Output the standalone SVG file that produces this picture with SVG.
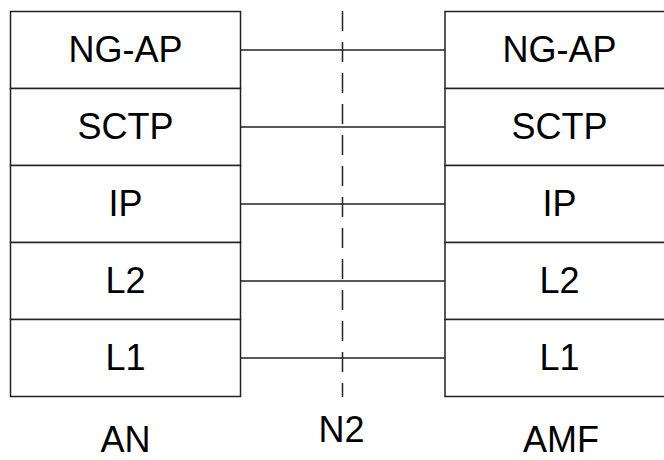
<svg xmlns="http://www.w3.org/2000/svg" width="664" height="460" viewBox="0 0 664 460">
<style>
.box{fill:#fff;stroke:#222;stroke-width:1.5}
.ln{stroke:#222;stroke-width:1.5;fill:none}
.dash{stroke:#222;stroke-width:1.5;stroke-dasharray:20 11;fill:none}
text{font-family:"Liberation Sans",Arial,sans-serif;font-size:36px;fill:#000;text-anchor:middle}
</style>
<rect width="664" height="460" fill="#fff"/>
<g id="connectors">
<line class="ln" x1="240.5" y1="50" x2="445" y2="50"/>
<line class="ln" x1="240.5" y1="127" x2="445" y2="127"/>
<line class="ln" x1="240.5" y1="204" x2="445" y2="204"/>
<line class="ln" x1="240.5" y1="281" x2="445" y2="281"/>
<line class="ln" x1="240.5" y1="358" x2="445" y2="358"/>
<line class="dash" x1="342.5" y1="11" x2="342.5" y2="397"/>
</g>
<g id="an-stack">
<g id="an-ngap"><rect class="box" x="10.5" y="11.5" width="230" height="77"/><text x="125.5" y="61.5">NG-AP</text></g>
<g id="an-sctp"><rect class="box" x="10.5" y="88.5" width="230" height="77"/><text x="125.5" y="138.7">SCTP</text></g>
<g id="an-ip"><rect class="box" x="10.5" y="165.5" width="230" height="77"/><text x="125.5" y="215.7">IP</text></g>
<g id="an-l2"><rect class="box" x="10.5" y="242.5" width="230" height="77"/><text x="125.5" y="292.7">L2</text></g>
<g id="an-l1"><rect class="box" x="10.5" y="319.5" width="230" height="77"/><text x="125.5" y="369.5">L1</text></g>
</g>
<g id="amf-stack">
<g id="amf-ngap"><rect class="box" x="445" y="11.5" width="229" height="77"/><text x="559.5" y="61.5">NG-AP</text></g>
<g id="amf-sctp"><rect class="box" x="445" y="88.5" width="229" height="77"/><text x="559.5" y="138.7">SCTP</text></g>
<g id="amf-ip"><rect class="box" x="445" y="165.5" width="229" height="77"/><text x="559.5" y="215.7">IP</text></g>
<g id="amf-l2"><rect class="box" x="445" y="242.5" width="229" height="77"/><text x="559.5" y="292.7">L2</text></g>
<g id="amf-l1"><rect class="box" x="445" y="319.5" width="229" height="77"/><text x="559.5" y="369.5">L1</text></g>
</g>
<g id="label-an"><text x="125.5" y="452">AN</text></g>
<g id="label-n2"><text x="341.5" y="441.5">N2</text></g>
<g id="label-amf"><text x="561" y="452">AMF</text></g>
</svg>
